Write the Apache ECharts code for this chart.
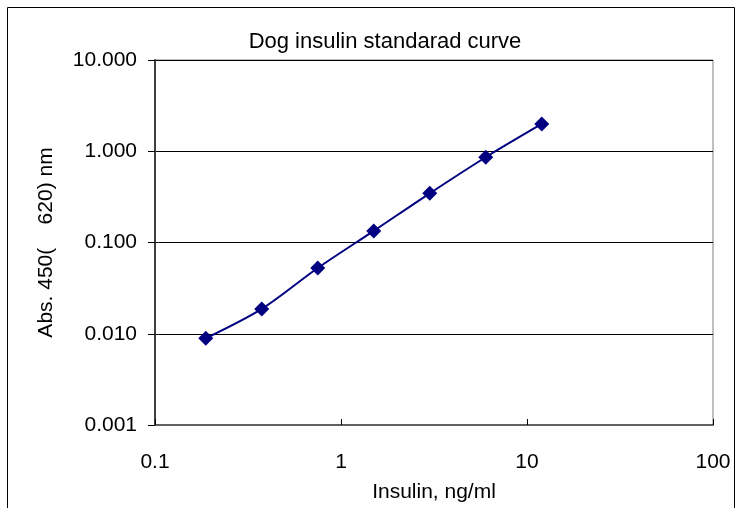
<!DOCTYPE html>
<html>
<head>
<meta charset="utf-8">
<script src="https://cdn.jsdelivr.net/npm/echarts@6/dist/echarts.min.js"></script>
<style>
  html, body { margin: 0; padding: 0; background: #fff; }
  #main { width: 741px; height: 508px; }
</style>
</head>
<body>
<div id="main"></div>
<script>
// insulin concentration (ng/ml) and absorbance readings
var insulin = [0.1875, 0.375, 0.75, 1.5, 3, 6, 12];
var absorbance = [0.0089, 0.0187, 0.0525, 0.134, 0.346, 0.86, 1.99];
var xTicks = [0.1, 1, 10, 100];
var yTicks = [0.001, 0.01, 0.1, 1, 10];

var myChart = echarts.init(document.getElementById('main'));

var points = insulin.map(function (x, i) { return [x, absorbance[i]]; });
var font = 'Liberation Sans, Arial, sans-serif';

var option = {
    backgroundColor: '#fff',
    animation: false,
    title: {
        text: 'Dog insulin standarad curve',
        left: 380,
        top: 26,
        textAlign: 'center',
        textStyle: { fontFamily: font, fontSize: 22, fontWeight: 'normal', color: '#000' }
    },
    graphic: [{
        type: 'rect',
        shape: { x: 7.5, y: 7.5, width: 727, height: 520 },
        style: { fill: 'none', stroke: '#000', lineWidth: 1 },
        silent: true
    }],
    grid: {
        left: 155, top: 60, right: 28, bottom: 83,
        show: true, borderColor: '#808080', borderWidth: 1, backgroundColor: '#fff'
    },
    xAxis: {
        type: 'log',
        logBase: 10,
        min: xTicks[0],
        max: xTicks[xTicks.length - 1],
        name: 'Insulin, ng/ml',
        nameLocation: 'middle',
        nameGap: 57,
        nameTextStyle: { fontFamily: font, fontSize: 21, color: '#000' },
        axisLine: { show: true, lineStyle: { color: '#606060', width: 2 } },
        axisTick: { show: true, inside: true, length: 6, lineStyle: { color: '#000' } },
        splitLine: { show: false },
        axisLabel: {
            fontFamily: font, fontSize: 21, color: '#000', margin: 27,
            formatter: function (v) { return String(+v.toPrecision(3)); }
        }
    },
    yAxis: {
        type: 'log',
        logBase: 10,
        min: yTicks[0],
        max: yTicks[yTicks.length - 1],
        name: 'Abs. 450(    620) nm',
        nameLocation: 'middle',
        nameGap: 98,
        nameRotate: 90,
        nameTextStyle: { fontFamily: font, fontSize: 21, color: '#000' },
        axisLine: { show: true, lineStyle: { color: '#404040', width: 2 } },
        axisTick: { show: true, inside: false, length: 7, lineStyle: { color: '#000' } },
        splitLine: { show: true, lineStyle: { color: '#000', width: 1 } },
        axisLabel: {
            fontFamily: font, fontSize: 21, color: '#000', margin: 18,
            formatter: function (v) { return (+v).toFixed(3); }
        }
    },
    series: [{
        type: 'line',
        data: points,
        smooth: 0.3,
        symbol: 'diamond',
        symbolSize: 15,
        itemStyle: { color: '#000080' },
        lineStyle: { color: '#000080', width: 2 }
    }]
};

myChart.setOption(option);
</script>
</body>
</html>
